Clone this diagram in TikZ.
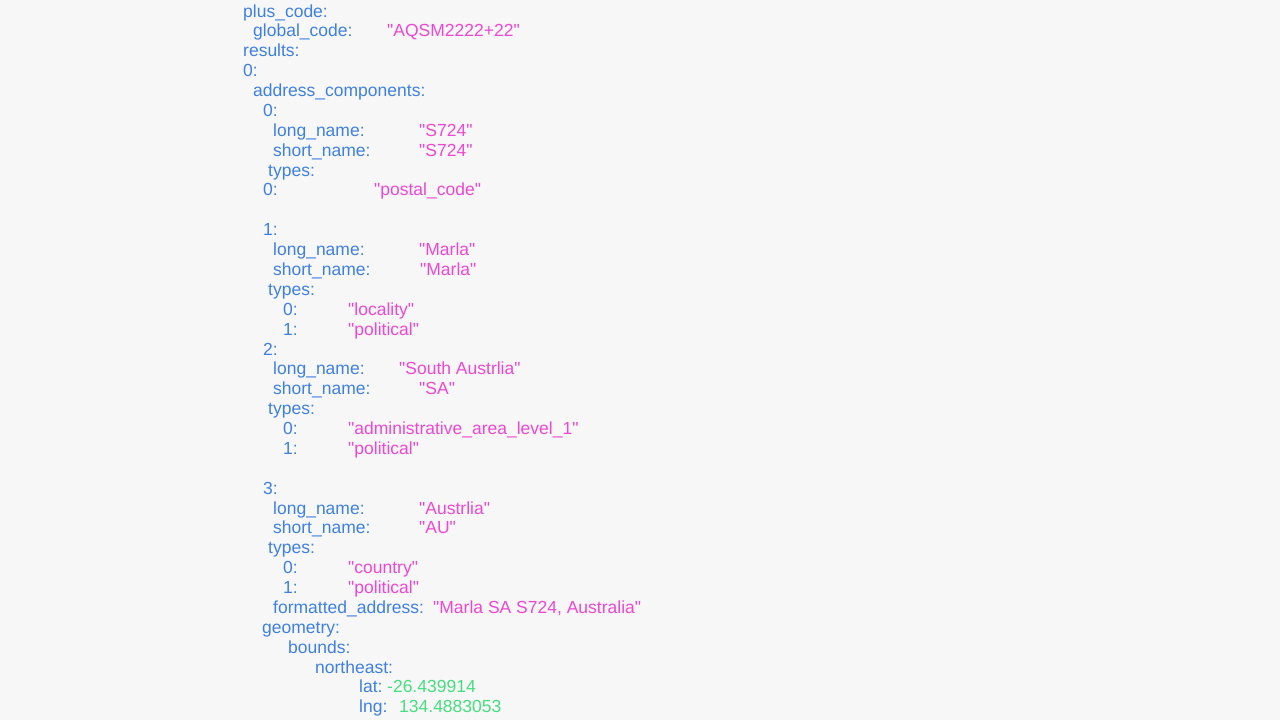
\documentclass[tikz,border=0pt]{standalone}
\usepackage{fontspec}
\setmainfont[Ligatures=TeXOff]{Liberation Sans}
\usepackage{tikz}
\definecolor{keyblue}{HTML}{3F80E4}
\definecolor{strpink}{HTML}{EE48D2}
\definecolor{numgreen}{HTML}{46DE7E}
\definecolor{pagebg}{HTML}{F7F7F7}
\tikzstyle{jsonkey}=[anchor=base west, inner sep=0pt, text=keyblue, font=\fontsize{17.5}{20}\selectfont]
\tikzstyle{jsonstr}=[jsonkey, text=strpink]
\tikzstyle{jsonnum}=[jsonkey, text=numgreen]

\begin{document}
\begin{tikzpicture}[x=1pt, y=-1pt]
          \fill[pagebg] (0,0) rectangle (1280,720);
          \useasboundingbox (0,0) rectangle (1280,720);
          \begin{scope}[yshift=-1pt]
          \node[jsonkey] (key0) at (243,16){plus\_code:};
          \node[jsonkey] (key1) at (253,35.9){global\_code:};
          \node[jsonstr] (val1) at (387,35.9){"AQSM2222+22"};
          \node[jsonkey] (key2) at (243,55.8){results:};
          \node[jsonkey] (key3) at (243,75.6){0:};
          \node[jsonkey] (key4) at (253,95.5){address\_components:};
          \node[jsonkey] (key5) at (263,115.4){0:};
          \node[jsonkey] (key6) at (273,135.3){long\_name:};
          \node[jsonstr] (val6) at (419,135.3){"S724"};
          \node[jsonkey] (key7) at (273,155.2){short\_name:};
          \node[jsonstr] (val7) at (419,155.2){"S724"};
          \node[jsonkey] (key8) at (268,175){types:};
          \node[jsonkey] (key9) at (263,194.9){0:};
          \node[jsonstr] (val9) at (374,194.9){"postal\_code"};
          \node[jsonkey] (key11) at (263,234.7){1:};
          \node[jsonkey] (key12) at (273,254.6){long\_name:};
          \node[jsonstr] (val12) at (419,254.6){"Marla"};
          \node[jsonkey] (key13) at (273,274.4){short\_name:};
          \node[jsonstr] (val13) at (420,274.4){"Marla"};
          \node[jsonkey] (key14) at (268,294.3){types:};
          \node[jsonkey] (key15) at (283,314.2){0:};
          \node[jsonstr] (val15) at (348,314.2){"locality"};
          \node[jsonkey] (key16) at (283,334.1){1:};
          \node[jsonstr] (val16) at (348,334.1){"political"};
          \node[jsonkey] (key17) at (263,354){2:};
          \node[jsonkey] (key18) at (273,373.8){long\_name:};
          \node[jsonstr] (val18) at (399,373.8){"South Austrlia"};
          \node[jsonkey] (key19) at (273,393.7){short\_name:};
          \node[jsonstr] (val19) at (419,393.7){"SA"};
          \node[jsonkey] (key20) at (268,413.6){types:};
          \node[jsonkey] (key21) at (283,433.5){0:};
          \node[jsonstr] (val21) at (348,433.5){"administrative\_area\_level\_1"};
          \node[jsonkey] (key22) at (283,453.4){1:};
          \node[jsonstr] (val22) at (348,453.4){"political"};
          \node[jsonkey] (key24) at (263,493.1){3:};
          \node[jsonkey] (key25) at (273,513){long\_name:};
          \node[jsonstr] (val25) at (419,513){"Austrlia"};
          \node[jsonkey] (key26) at (273,532.9){short\_name:};
          \node[jsonstr] (val26) at (419,532.9){"AU"};
          \node[jsonkey] (key27) at (268,552.8){types:};
          \node[jsonkey] (key28) at (283,572.6){0:};
          \node[jsonstr] (val28) at (348,572.6){"country"};
          \node[jsonkey] (key29) at (283,592.5){1:};
          \node[jsonstr] (val29) at (348,592.5){"political"};
          \node[jsonkey] (key30) at (273,612.4){formatted\_address:};
          \node[jsonstr] (val30) at (433,612.4){"Marla SA S724, Australia"};
          \node[jsonkey] (key31) at (262,632.3){geometry:};
          \node[jsonkey] (key32) at (288,652.2){bounds:};
          \node[jsonkey] (key33) at (315,672){northeast:};
          \node[jsonkey] (key34) at (359,691.9){lat:};
          \node[jsonnum] (val34) at (387,691.9){-26.439914};
          \node[jsonkey] (key35) at (359,711.8){lng:};
          \node[jsonnum] (val35) at (399,711.8){134.4883053};
          \end{scope}
        \end{tikzpicture}
\end{document}
